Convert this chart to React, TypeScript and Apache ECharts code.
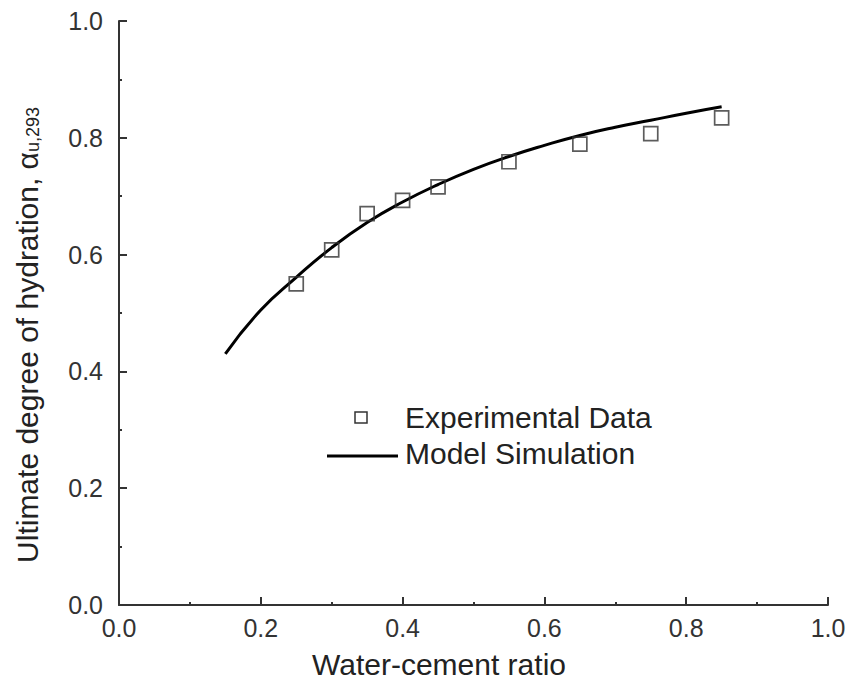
import React, { useEffect, useRef } from "react";
import * as echarts from "echarts";

// Experimental data (squares)
const expX = [0.25, 0.3, 0.35, 0.4, 0.45, 0.55, 0.65, 0.75, 0.85];
const expY = [0.55, 0.608, 0.67, 0.693, 0.716, 0.759, 0.789, 0.807, 0.834];

// Model simulation (solid curve)
const modelX = [0.15, 0.2, 0.25, 0.3, 0.35, 0.4, 0.45, 0.5, 0.55, 0.6, 0.65, 0.7, 0.75, 0.8, 0.85];
const modelY = [0.43, 0.505, 0.561, 0.612, 0.655, 0.69, 0.72, 0.746, 0.768, 0.787, 0.804, 0.818, 0.83, 0.842, 0.853];

const seriesNames = ["Experimental Data", "Model Simulation"];
const xTitle = "Water-cement ratio";
const yTitleMain = "Ultimate degree of hydration, α";
const yTitleSub = "u,293";

const FONT = '"Liberation Sans", Arial, Helvetica, sans-serif';
const INK = "#333";

export default function App() {
  const ref = useRef<HTMLDivElement>(null);
  useEffect(() => {
    if (!ref.current) return;
    const chart = echarts.init(ref.current, null, { renderer: "svg" });
    const axisCommon = {
      type: "value",
      min: 0,
      max: 1,
      interval: 0.2,
      axisLine: { show: true, onZero: false, lineStyle: { color: INK, width: 2 } },
      axisTick: { show: true, inside: true, length: 8, lineStyle: { color: INK, width: 2 } },
      minorTick: { show: true, splitNumber: 2, length: 3, lineStyle: { color: INK, width: 2 } },
      splitLine: { show: false },
      minorSplitLine: { show: false },
    };
    const option: any = {
      animation: false,
      backgroundColor: "#ffffff",
      grid: { left: 119, right: 25, top: 21, bottom: 82, containLabel: false },
      xAxis: {
        ...axisCommon,
        axisLabel: {
          margin: 10,
          fontFamily: FONT,
          fontSize: 25,
          color: INK,
          formatter: (v: number) => v.toFixed(1),
        },
      },
      yAxis: {
        ...axisCommon,
        axisLabel: {
          margin: 16,
          fontFamily: FONT,
          fontSize: 25,
          color: INK,
          formatter: (v: number) => v.toFixed(1),
        },
      },
      series: [
        {
          name: seriesNames[1],
          type: "line",
          data: modelX.map((x, i) => [x, modelY[i]]),
          smooth: true,
          symbol: "none",
          lineStyle: { color: "#000", width: 3 },
          z: 2,
        },
        {
          name: seriesNames[0],
          type: "scatter",
          data: expX.map((x, i) => [x, expY[i]]),
          symbol: "rect",
          symbolSize: 14,
          itemStyle: { color: "rgba(0,0,0,0)", borderColor: INK, borderWidth: 1.7 },
          z: 3,
        },
      ],
      graphic: [
        {
          type: "rect",
          shape: { x: 355, y: 412, width: 12, height: 11 },
          style: { fill: "rgba(0,0,0,0)", stroke: INK, lineWidth: 1.5 },
        },
        {
          type: "text",
          x: 405,
          y: 417,
          style: {
            text: seriesNames[0],
            fontFamily: FONT,
            fontSize: 30,
            fill: "#222",
            align: "left",
            verticalAlign: "middle",
          },
        },
        {
          type: "line",
          shape: { x1: 327, y1: 456, x2: 398, y2: 456 },
          style: { stroke: "#000", lineWidth: 3 },
        },
        {
          type: "text",
          x: 405,
          y: 453,
          style: {
            text: seriesNames[1],
            fontFamily: FONT,
            fontSize: 30,
            fill: "#222",
            align: "left",
            verticalAlign: "middle",
          },
        },
        {
          type: "text",
          x: 439,
          y: 664,
          style: {
            text: xTitle,
            fontFamily: FONT,
            fontSize: 30,
            fill: "#222",
            align: "center",
            verticalAlign: "middle",
          },
        },
        {
          type: "text",
          x: 27,
          y: 335,
          rotation: Math.PI / 2,
          style: {
            text: "{m|" + yTitleMain + "}{s|" + yTitleSub + "}",
            align: "center",
            verticalAlign: "middle",
            fill: "#222",
            rich: {
              m: { fontFamily: FONT, fontSize: 30, lineHeight: 30, verticalAlign: "top", fill: "#222" },
              s: {
                fontFamily: FONT,
                fontSize: 18,
                lineHeight: 18,
                padding: [20, 0, 0, 0],
                verticalAlign: "bottom",
                fill: "#222",
              },
            },
          },
        },
      ],
    };
    chart.setOption(option);
    return () => chart.dispose();
  }, []);
  return (
    <div
      ref={ref}
      style={{ position: "fixed", left: 0, top: 0, width: 853, height: 687, background: "#fff" }}
    />
  );
}
